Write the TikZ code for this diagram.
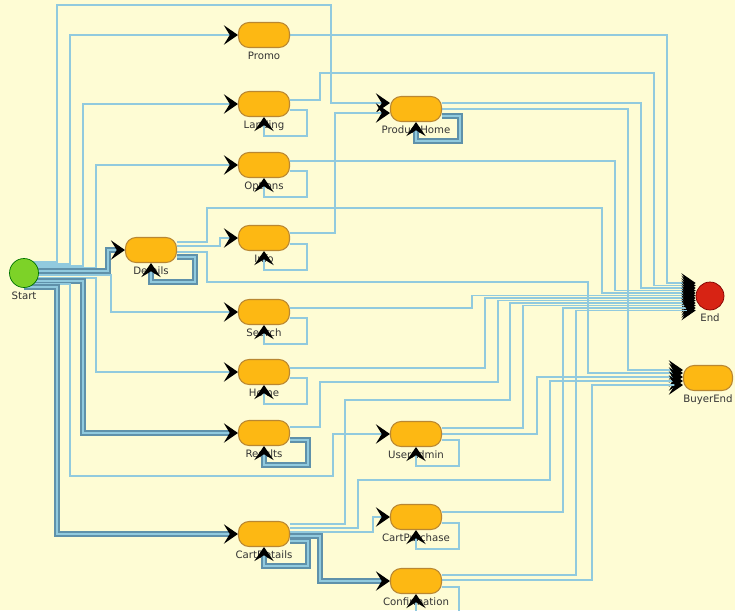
\documentclass[tikz,border=0pt]{standalone}
\usepackage{fontspec}
\setsansfont{DejaVu Sans}
\usetikzlibrary{arrows.meta}
\usetikzlibrary{calc}

\definecolor{paper}{RGB}{254,252,212}
\definecolor{stateorange}{RGB}{253,184,19}
\definecolor{stateborder}{RGB}{185,135,50}
\definecolor{startgreen}{RGB}{125,210,40}
\definecolor{endred}{RGB}{215,35,20}
\definecolor{linkblue}{RGB}{145,202,222}
\definecolor{linkdark}{RGB}{95,145,170}

\pgfdeclarelayer{background}
\pgfsetlayers{background,main}

\tikzset{
  state/.style={draw=stateborder, fill=stateorange, rounded corners=6pt, minimum width=1.02cm, minimum height=0.5cm, line width=0.6pt},
  lbl/.style={font=\sffamily\fontsize{5.8}{6}\selectfont, text=black!80, inner sep=0.5pt, label distance=1.5pt},
  flow/.style={draw=linkblue, line width=1.1pt, -{Stealth[black,length=8pt,width=11pt,inset=3.3pt]}},
  mainflow/.style={draw=linkdark, double=linkblue, double distance=1.3pt, line width=0.9pt, -{Stealth[black,length=8pt,width=11pt,inset=3.3pt]}},
}

\begin{document}
\begin{tikzpicture}[x=0.02cm, y=-0.02cm]

        \useasboundingbox (0,0) rectangle (735,610);

        % Start and end points
        \node[circle, draw=green!45!black, fill=startgreen, minimum size=0.58cm, inner sep=0pt, label={[lbl]below:Start}] (Start) at (24,273) {};
        \node[circle, draw=red!50!black, fill=endred, minimum size=0.56cm, inner sep=0pt, label={[lbl]below:End}] (End) at (710,296) {};
        \node[state, minimum width=0.98cm, label={[lbl]below:BuyerEnd}] (BuyerEnd) at (708,378) {};

        % Pages
        \node[state, label={[lbl]below:Promo}] (Promo) at (264,35) {};
        \node[state, label={[lbl]below:Landing}] (Landing) at (264,104) {};
        \node[state, label={[lbl]below:Options}] (Options) at (264,165) {};
        \node[state, label={[lbl]below:ProductHome}] (ProductHome) at (416,109) {};
        \node[state, label={[lbl]below:Details}] (Details) at (151,250) {};
        \node[state, label={[lbl]below:Info}] (Info) at (264,238) {};
        \node[state, label={[lbl]below:Search}] (Search) at (264,312) {};
        \node[state, label={[lbl]below:Home}] (Home) at (264,372) {};
        \node[state, label={[lbl]below:Results}] (Results) at (264,433) {};
        \node[state, label={[lbl]below:UserAdmin}] (UserAdmin) at (416,434) {};
        \node[state, label={[lbl]below:CartDetails}] (CartDetails) at (264,534) {};
        \node[state, label={[lbl]below:CartPurchase}] (CartPurchase) at (416,517) {};
        \node[state, label={[lbl]below:Confirmation}] (Confirmation) at (416,581) {};

        \begin{pgfonlayer}{background}
        \fill[paper] (0,0) rectangle (735,610);

        % Leaving Start
        \draw[flow] (Start |- 0,262) -| (57,5) -| (331,103) -- (ProductHome.west |- 0,103);
        \draw[flow] (Start |- 0,264) -| (70,35) -- (Promo.west);
        \draw[flow] (Start |- 0,266) -| (83,104) -- (Landing.west);
        \draw[flow] (Start |- 0,268) -| (96,165) -- (Options.west);
        \draw[mainflow] (Start |- 0,271) -| (108,250) -- (Details.west);
        \draw[flow] (Start |- 0,275) -| (111,312) -- (Search.west);
        \draw[flow] (Start |- 0,278) -| (96,372) -- (Home.west);
        \draw[mainflow] (Start |- 0,281) -| (83,433) -- (Results.west);
        \draw[flow] (Start |- 0,284) -| (70,476) -| (333,434) -- (UserAdmin.west);
        \draw[mainflow] (Start |- 0,287) -| (57,534) -- (CartDetails.west);

        % Between pages
        \draw[flow] (Info.east |- 0,233) -| (335,113) -- (ProductHome.west |- 0,113);
        \draw[flow] (Details.east |- 0,246) -| (220,238) -- (Info.west);
        \draw[flow] (CartDetails.east |- 0,532) -| (373,517) -- (CartPurchase.west);
        \draw[mainflow] (CartDetails.east |- 0,536) -| (320,581) -- (Confirmation.west);

        % Into End
        \draw[flow] (Promo.east) -| (667,283) -- (End.west |- 0,283);
        \draw[flow] (Landing.east |- 0,100) -| (320,73) -| (654,285.5) -- (End.west |- 0,285.5);
        \draw[flow] (ProductHome.east |- 0,103) -| (641,288) -- (End.west |- 0,288);
        \draw[flow] (Options.east |- 0,161) -| (615,290.5) -- (End.west |- 0,290.5);
        \draw[flow] (Details.east |- 0,242) -| (207,208) -| (602,293) -- (End.west |- 0,293);
        \draw[flow] (Search.east |- 0,308) -| (472,295.5) -- (End.west |- 0,295.5);
        \draw[flow] (Home.east |- 0,368) -| (485,298) -- (End.west |- 0,298);
        \draw[flow] (Results.east |- 0,427) -| (320,382) -| (498,300.5) -- (End.west |- 0,300.5);
        \draw[flow] (CartDetails.east |- 0,524) -| (345,400) -| (510,303) -- (End.west |- 0,303);
        \draw[flow] (UserAdmin.east |- 0,428) -| (523,305.5) -- (End.west |- 0,305.5);
        \draw[flow] (CartPurchase.east |- 0,512) -| (563,308) -- (End.west |- 0,308);
        \draw[flow] (Confirmation.east |- 0,575) -| (576,310.5) -- (End.west |- 0,310.5);

        % Into BuyerEnd
        \draw[flow] (ProductHome.east |- 0,109) -| (628,370) -- (BuyerEnd.west |- 0,370);
        \draw[flow] (Details.east |- 0,252) -| (207,282) -| (588,373) -- (BuyerEnd.west |- 0,373);
        \draw[flow] (UserAdmin.east |- 0,434) -| (537,377) -- (BuyerEnd.west |- 0,377);
        \draw[flow] (CartDetails.east |- 0,528) -| (358,480) -| (550,381) -- (BuyerEnd.west |- 0,381);
        \draw[flow] (Confirmation.east |- 0,580) -| (592,385) -- (BuyerEnd.west |- 0,385);
        \end{pgfonlayer}

        % Self loops
        \foreach \s in {Landing, Options, Info, Search, Home, UserAdmin, CartPurchase, Confirmation}
            \draw[flow] ($(\s.east)+(0,6)$) -- ++(17,0) |- ($(\s.south)+(0,19)$) -- (\s.south);
        \foreach \s in {ProductHome, Details, Results, CartDetails}
            \draw[mainflow] ($(\s.east)+(0,7)$) -- ++(18,0) |- ($(\s.south)+(0,19)$) -- (\s.south);

\end{tikzpicture}
\end{document}
